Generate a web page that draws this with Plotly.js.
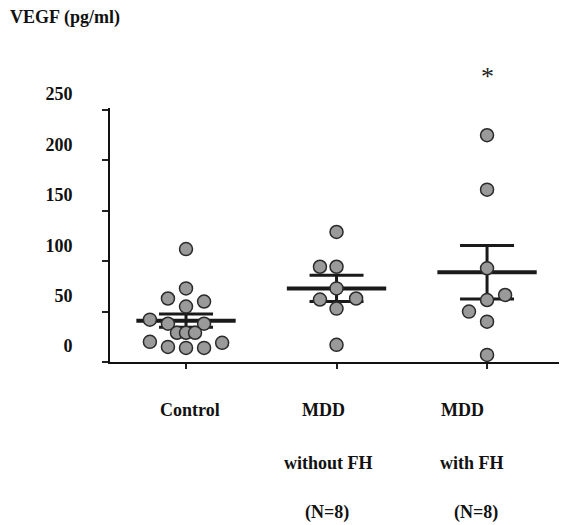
<!DOCTYPE html>
<html><head><meta charset="utf-8">
<script src="https://cdn.plot.ly/plotly-3.0.1.min.js"></script>
<style>html,body{margin:0;padding:0;background:#fff}#chart{width:561px;height:525px}</style>
</head><body><div id="chart"></div>
<script>
// ---- data ----
const groups = ["Control", "MDD without FH", "MDD with FH"];
const labelRow1 = ["Control", "MDD", "MDD"];
const labelRow2 = ["", "without FH", "with FH"];
const labelRow3 = ["", "(N=8)", "(N=8)"];
const controlValues = [112, 73, 63, 60, 55, 42, 38, 38, 29, 29, 29, 20, 15, 14, 14, 19];
const controlJitter = [0, 0, -0.12, 0.12, 0, -0.24, -0.12, 0.12, -0.06, 0, 0.06, -0.24, -0.12, 0, 0.12, 0.24];
const mddNoFhValues = [129, 94.5, 94.5, 73, 62, 63, 53, 17];
const mddNoFhJitter = [0, -0.11, 0, 0, -0.11, 0.13, 0, 0];
const mddFhValues = [225, 171, 93, 66.5, 61.5, 50, 40, 7];
const mddFhJitter = [0, 0, 0, 0.12, 0, -0.12, 0, 0];
const groupMeans = [41, 73, 89];
const groupSE = [6.5, 13, 26.5];
const yTickVals = [0, 50, 100, 150, 200, 250];
const yTickText = ["0", "50", "100", "150", "200", "250"];
const significance = ["", "", "*"];

// ---- styling ----
const serif = "'Liberation Serif', 'Times New Roman', Times, 'DejaVu Serif', serif";
const fontBold = {family: serif, size: 18, color: "#111", weight: "bold"};
const groupValues = [controlValues, mddNoFhValues, mddFhValues];
const groupJitter = [controlJitter, mddNoFhJitter, mddFhJitter];

const traces = [];
groups.forEach((g, i) => {
  traces.push({
    type: "scatter", mode: "lines", x: [i - 0.33, i + 0.33], y: [groupMeans[i], groupMeans[i]],
    line: {color: "#1a1a1a", width: 4}, hoverinfo: "skip", showlegend: false
  });
});
traces.push({
  type: "scatter", mode: "markers", x: groups.map((g, i) => i), y: groupMeans,
  marker: {size: 1, color: "rgba(0,0,0,0)"},
  error_y: {type: "data", array: groupSE, visible: true, color: "#1a1a1a", thickness: 3, width: 27},
  showlegend: false, hoverinfo: "skip"
});
groups.forEach((g, i) => {
  traces.push({
    type: "scatter", mode: "markers", name: g,
    x: groupValues[i].map((v, k) => i + groupJitter[i][k]), y: groupValues[i],
    marker: {size: 13, color: "#9a9a9a", line: {color: "#2a2a2a", width: 1.5}},
    cliponaxis: false, showlegend: false
  });
});

const annotations = [];
const rowShift = [-48, -101, -150];
const colShift = [[4, 0, 0], [-13, -8, -10], [-25, -15, -11]];
[labelRow1, labelRow2, labelRow3].forEach((row, r) => {
  row.forEach((t, i) => {
    if (!t) return;
    annotations.push({
      text: t, x: i, xref: "x", y: 0, yref: "paper", yshift: rowShift[r], xshift: colShift[i][r],
      showarrow: false, xanchor: "center", yanchor: "middle", font: fontBold
    });
  });
});
significance.forEach((s, i) => {
  if (!s) return;
  annotations.push({
    text: s, x: i, xref: "x", y: 1, yref: "paper", yshift: 32, showarrow: false,
    font: {family: serif, size: 26, color: "#222"}, xanchor: "center", yanchor: "middle"
  });
});

const layout = {
  width: 561, height: 525,
  paper_bgcolor: "#fff", plot_bgcolor: "#fff",
  margin: {l: 110, r: 2, t: 108, b: 163},
  font: {family: serif},
  title: {text: "VEGF (pg/ml)", font: {family: serif, size: 18, color: "#111", weight: "bold"},
          x: 0.018, xref: "container", xanchor: "left", y: 0.968, yref: "container", yanchor: "middle"},
  xaxis: {range: [-0.505, 2.478], tickvals: [0, 1, 2], showticklabels: false,
          ticks: "outside", ticklen: 5, tickwidth: 2, tickcolor: "#222",
          showline: true, linecolor: "#111", linewidth: 2, showgrid: false, zeroline: false, fixedrange: true},
  yaxis: {range: [0, 252], tickvals: yTickVals, ticktext: yTickText,
          ticks: "outside", ticklen: 6, tickwidth: 2, tickcolor: "#222",
          ticklabelshift: -16, ticklabelstandoff: 26,
          tickfont: fontBold,
          showline: true, linecolor: "#111", linewidth: 2, showgrid: false, zeroline: false, fixedrange: true},
  annotations: annotations,
  showlegend: false
};

Plotly.newPlot("chart", traces, layout, {displayModeBar: false, staticPlot: true});
</script>
</body></html>
